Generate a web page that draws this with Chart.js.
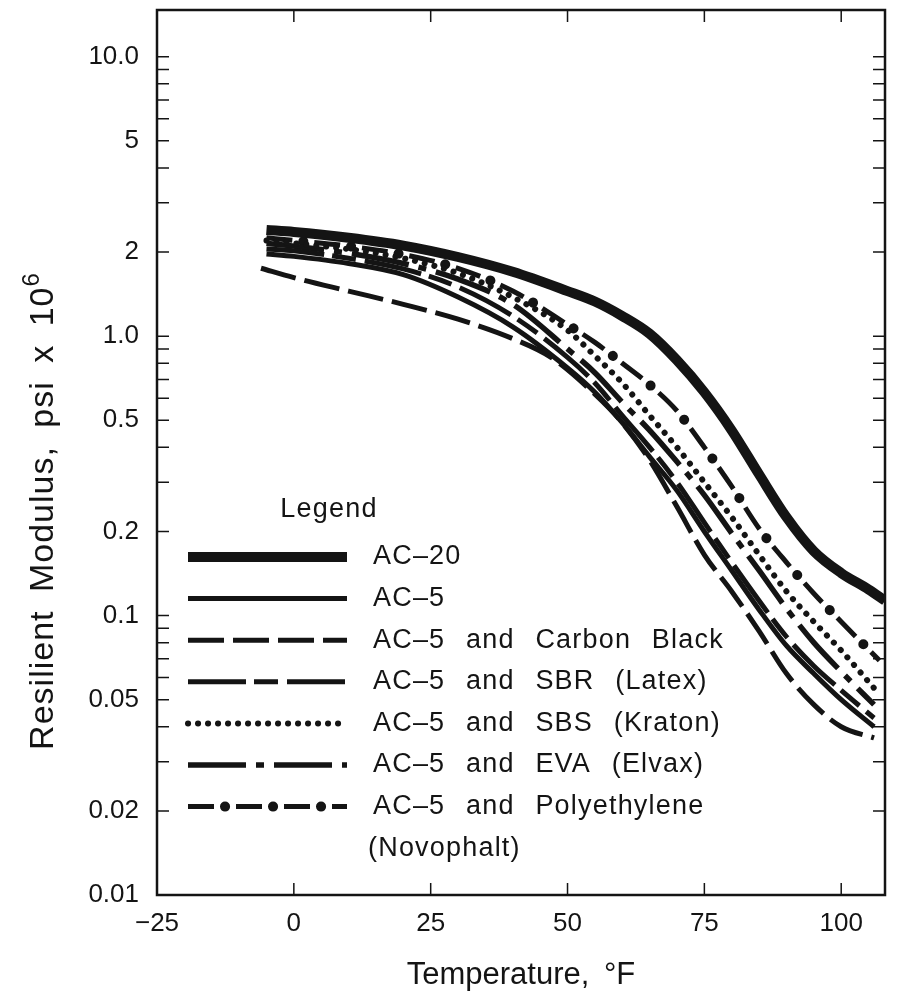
<!DOCTYPE html>
<html>
<head>
<meta charset="utf-8">
<script src="https://cdn.jsdelivr.net/npm/chart.js@4.4.0/dist/chart.umd.min.js"></script>
<style>
  html, body { margin: 0; padding: 0; background: #fff; }
</style>
</head>
<body>
<canvas id="chart" width="900" height="1008"></canvas>
<script>
// temperatures, deg F
const tempsAC20 = [-5, 0, 10, 20, 30, 40, 50, 55, 60, 65, 70, 75, 80, 85, 90, 95, 100, 105, 108];
const tempsMain = [-5, 0, 10, 20, 30, 40, 50, 55, 60, 65, 70, 75, 80, 85, 90, 95, 100, 106];
const tempsCB = [-6, 0, 10, 20, 30, 40, 47, 55, 60, 65, 70, 75, 80, 85, 90, 95, 100, 106];
const tempsPoly = [-5, 0, 10, 20, 30, 40, 50, 55, 60, 65, 70, 75, 80, 85, 90, 95, 100, 107];

// resilient modulus, psi x 10^6
const ac20 = [2.40, 2.36, 2.25, 2.11, 1.92, 1.70, 1.45, 1.33, 1.18, 1.02, 0.82, 0.63, 0.46, 0.32, 0.225, 0.17, 0.142, 0.124, 0.113];
const ac5 = [1.97, 1.93, 1.82, 1.66, 1.38, 1.08, 0.77, 0.63, 0.49, 0.37, 0.28, 0.20, 0.145, 0.105, 0.078, 0.062, 0.050, 0.040];
const carbonBlack = [1.75, 1.62, 1.45, 1.30, 1.15, 0.98, 0.84, 0.62, 0.49, 0.36, 0.245, 0.165, 0.122, 0.088, 0.062, 0.048, 0.040, 0.0365];
const sbr = [2.05, 2.02, 1.90, 1.74, 1.50, 1.18, 0.84, 0.68, 0.52, 0.40, 0.30, 0.215, 0.155, 0.113, 0.084, 0.066, 0.054, 0.043];
const sbs = [2.20, 2.15, 2.05, 1.90, 1.68, 1.38, 1.05, 0.85, 0.68, 0.52, 0.40, 0.30, 0.225, 0.165, 0.122, 0.095, 0.075, 0.055];
const eva = [2.15, 2.10, 1.98, 1.82, 1.60, 1.30, 0.90, 0.74, 0.58, 0.46, 0.355, 0.27, 0.197, 0.145, 0.106, 0.080, 0.063, 0.048];
const poly = [2.25, 2.20, 2.10, 1.96, 1.75, 1.45, 1.10, 0.95, 0.80, 0.67, 0.54, 0.40, 0.29, 0.205, 0.155, 0.12, 0.095, 0.069];

const seriesNames = ['AC–20', 'AC–5', 'AC–5 and Carbon Black', 'AC–5 and SBR (Latex)',
  'AC–5 and SBS (Kraton)', 'AC–5 and EVA (Elvax)', 'AC–5 and Polyethylene'];
const extraLegendLine = '(Novophalt)';

const xTickValues = [-25, 0, 25, 50, 75, 100];
const xTickLabels = ['−25', '0', '25', '50', '75', '100'];
const yTickValues = [0.01, 0.02, 0.05, 0.1, 0.2, 0.5, 1, 2, 5, 10];
const yTickLabels = ['0.01', '0.02', '0.05', '0.1', '0.2', '0.5', '1.0', '2', '5', '10.0'];
const yMinorTicks = [0.03, 0.04, 0.06, 0.07, 0.08, 0.09, 0.3, 0.4, 0.6, 0.7, 0.8, 0.9, 3, 4, 6, 7, 8, 9];

const INK = '#141414';
const FONT = '"Liberation Sans", Arial, Helvetica, sans-serif';

// line styles, same order as seriesNames
const styles = [
  { width: 10, dash: [] },
  { width: 5, dash: [] },
  { width: 5, dash: [36, 9] },
  { width: 5, dash: [58, 8, 24, 9] },
  { width: 6, dash: [0.1, 9.9], cap: 'round' },
  { width: 5.5, dash: [58, 10, 8, 10] },
  { width: 5, dash: [26, 22] }
];
const polyDot = { width: 10, dash: [0.1, 47.9], offset: 11, cap: 'round' };

const pts = (xs, ys) => xs.map((t, i) => ({ x: t, y: ys[i] }));
const seriesData = [
  pts(tempsAC20, ac20), pts(tempsMain, ac5), pts(tempsCB, carbonBlack),
  pts(tempsMain, sbr), pts(tempsMain, sbs), pts(tempsMain, eva), pts(tempsPoly, poly)
];

const datasets = seriesData.map((d, i) => ({
  label: seriesNames[i],
  data: d,
  borderColor: INK,
  borderWidth: styles[i].width,
  borderDash: styles[i].dash,
  borderCapStyle: styles[i].cap || 'butt',
  cubicInterpolationMode: 'monotone',
  pointRadius: 0,
  fill: false
}));
// dots of the polyethylene line
datasets.push({
  label: 'poly-dots',
  data: pts(tempsPoly, poly),
  borderColor: INK,
  borderWidth: polyDot.width,
  borderDash: polyDot.dash,
  borderDashOffset: polyDot.offset,
  borderCapStyle: 'round',
  cubicInterpolationMode: 'monotone',
  pointRadius: 0,
  fill: false
});

function strokeSample(ctx, st, x0, x1, y, offset) {
  ctx.beginPath();
  ctx.lineWidth = st.width;
  ctx.setLineDash(st.dash);
  ctx.lineDashOffset = offset || 0;
  ctx.lineCap = st.cap || 'butt';
  ctx.moveTo(x0, y);
  ctx.lineTo(x1, y);
  ctx.stroke();
}

const decorations = {
  id: 'decorations',
  afterDraw(chart) {
    const { ctx, chartArea: a, scales: { x, y } } = chart;
    ctx.save();
    ctx.strokeStyle = INK;
    ctx.fillStyle = INK;

    // frame
    ctx.lineWidth = 2.5;
    ctx.setLineDash([]);
    ctx.strokeRect(a.left, a.top, a.right - a.left, a.bottom - a.top);

    // inward ticks
    ctx.lineWidth = 1.5;
    yTickValues.concat(yMinorTicks).forEach(v => {
      const py = y.getPixelForValue(v);
      if (py < a.top + 2 || py > a.bottom - 2) return;
      ctx.beginPath();
      ctx.moveTo(a.left, py); ctx.lineTo(a.left + 12, py);
      ctx.moveTo(a.right, py); ctx.lineTo(a.right - 12, py);
      ctx.stroke();
    });
    xTickValues.forEach(v => {
      const px = x.getPixelForValue(v);
      if (px < a.left + 2 || px > a.right - 2) return;
      ctx.beginPath();
      ctx.moveTo(px, a.bottom); ctx.lineTo(px, a.bottom - 12);
      ctx.moveTo(px, a.top); ctx.lineTo(px, a.top + 12);
      ctx.stroke();
    });

    // x axis title
    ctx.font = '31px ' + FONT;
    ctx.letterSpacing = '0px';
    ctx.wordSpacing = '6px';
    ctx.textAlign = 'center';
    ctx.textBaseline = 'middle';
    ctx.fillText('Temperature, °F', (a.left + a.right) / 2, 975);

    // y axis title with superscript
    const main = 'Resilient Modulus, psi x 10';
    ctx.font = '34px ' + FONT;
    ctx.letterSpacing = '1px';
    ctx.wordSpacing = '8px';
    const wMain = ctx.measureText(main).width;
    ctx.font = '24px ' + FONT;
    const wSup = ctx.measureText('6').width;
    ctx.save();
    ctx.translate(53, 511);
    ctx.rotate(-Math.PI / 2);
    ctx.textAlign = 'left';
    ctx.textBaseline = 'alphabetic';
    const start = -(wMain + wSup) / 2;
    ctx.font = '34px ' + FONT;
    ctx.fillText(main, start, 0);
    ctx.font = '24px ' + FONT;
    ctx.fillText('6', start + wMain, -14);
    ctx.restore();

    // legend
    ctx.letterSpacing = '1.2px';
    ctx.wordSpacing = '12px';
    ctx.font = '27px ' + FONT;
    ctx.textAlign = 'center';
    ctx.textBaseline = 'middle';
    ctx.fillText('Legend', 329, 510);
    ctx.textAlign = 'left';
    const row0 = 557, gap = 41.6, x0 = 188, x1 = 347, tx = 373;
    seriesNames.forEach((name, i) => {
      const ly = row0 + i * gap;
      strokeSample(ctx, styles[i], x0, x1, ly);
      if (i === seriesNames.length - 1) {
        strokeSample(ctx, polyDot, x0, x1, ly, polyDot.offset);
      }
      ctx.setLineDash([]);
      ctx.fillText(name, tx, ly);
    });
    ctx.fillText(extraLegendLine, tx - 5, row0 + seriesNames.length * gap);
    ctx.restore();
  }
};

new Chart(document.getElementById('chart').getContext('2d'), {
  type: 'line',
  data: { datasets: datasets },
  options: {
    responsive: false,
    animation: false,
    devicePixelRatio: 1,
    layout: { padding: { left: 0, right: 15, top: 10, bottom: 0 } },
    plugins: { legend: { display: false }, tooltip: { enabled: false } },
    scales: {
      x: {
        type: 'linear',
        min: -25,
        max: 108,
        grid: { display: false, drawTicks: false },
        border: { display: false },
        afterBuildTicks: s => { s.ticks = xTickValues.map(v => ({ value: v })); },
        afterFit: s => { s.height = 113; s.paddingLeft = 0; s.paddingRight = 0; },
        ticks: {
          autoSkip: false,
          maxRotation: 0,
          padding: 13,
          color: INK,
          font: { family: FONT, size: 26 },
          callback: v => xTickLabels[xTickValues.indexOf(v)]
        }
      },
      y: {
        type: 'logarithmic',
        min: 0.01,
        max: 14.7,
        grid: { display: false, drawTicks: false },
        border: { display: false },
        afterBuildTicks: s => { s.ticks = yTickValues.map(v => ({ value: v })); },
        afterFit: s => { s.width = 157; s.paddingTop = 0; s.paddingBottom = 0; },
        ticks: {
          autoSkip: false,
          padding: 18,
          color: INK,
          font: { family: FONT, size: 26 },
          callback: v => yTickLabels[yTickValues.indexOf(v)]
        }
      }
    }
  },
  plugins: [decorations]
});
</script>
</body>
</html>
